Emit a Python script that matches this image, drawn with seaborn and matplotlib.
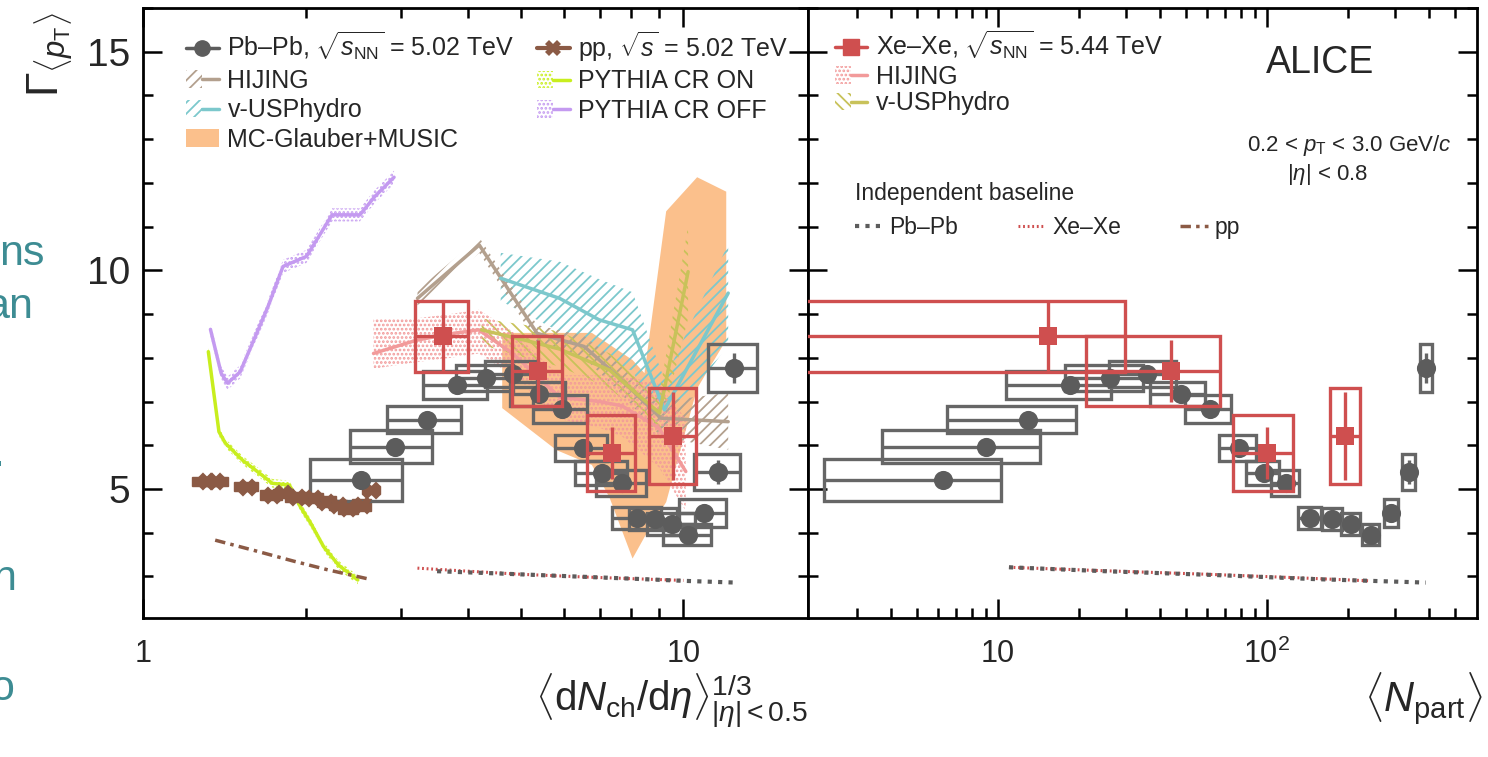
import numpy as np
import matplotlib
matplotlib.use("Agg")
import matplotlib.pyplot as plt
import seaborn as sns
from matplotlib.patches import Rectangle, Patch
from matplotlib.lines import Line2D
from matplotlib.legend_handler import HandlerTuple
from matplotlib.ticker import FixedLocator, NullFormatter, MultipleLocator

# ---------------- data ----------------
# Pb-Pb 5.02 TeV
pb_dn = [2.53, 2.92, 3.35, 3.81, 4.31, 4.83, 5.40, 5.95, 6.51, 7.08, 7.71, 8.22, 8.84, 9.54, 10.2, 10.9, 11.6, 12.4]
pb_dn_err = [0.49, 0.50, 0.52, 0.52, 0.52, 0.53, 0.63, 0.68, 0.72, 0.78, 0.82, 0.85, 0.90, 0.97, 1.05, 1.10, 1.15, 1.30]
pb_npart = [6.25, 9.0, 13.0, 18.5, 26.1, 36.0, 47.8, 61.6, 79.0, 97.5, 118, 145, 175, 205, 243, 289, 337, 390]
pb_npart_err = [4.0, 5.3, 6.5, 7.8, 8.4, 10, 11, 12, 12.4, 13.6, 14, 14, 15, 16, 17, 17, 19, 20]
pb_gamma = [5.20, 5.97, 6.58, 7.38, 7.54, 7.63, 7.17, 6.83, 5.94, 5.37, 5.14, 4.34, 4.31, 4.20, 3.95, 4.45, 5.39, 7.77]
pb_stat = [0.10, 0.10, 0.10, 0.10, 0.10, 0.10, 0.10, 0.10, 0.10, 0.10, 0.12, 0.12, 0.12, 0.14, 0.15, 0.18, 0.27, 0.35]
pb_sys = [0.48, 0.37, 0.31, 0.33, 0.30, 0.30, 0.28, 0.32, 0.30, 0.27, 0.29, 0.25, 0.25, 0.25, 0.24, 0.32, 0.41, 0.55]

# Xe-Xe 5.44 TeV
xe_dn = [3.59, 5.39, 7.39, 9.58]
xe_dn_err = [0.40, 0.57, 0.75, 0.95]
xe_npart = [15.3, 44.0, 100, 196]
xe_npart_err = [14.5, 22.7, 25, 25]
xe_gamma = [8.49, 7.70, 5.82, 6.21]
xe_stat = [0.81, 0.70, 0.59, 1.00]
xe_sys = [0.81, 0.80, 0.87, 1.09]

# pp 5.02 TeV
pp_dn = [1.311, 1.359, 1.555, 1.729, 1.817, 1.925, 2.066, 2.185, 2.297, 2.397, 2.537, 2.643]
pp_gamma = [5.18, 5.18, 5.05, 4.86, 4.90, 4.82, 4.79, 4.71, 4.63, 4.56, 4.63, 4.98]
pp_dn_err = [0.08, 0.08, 0.08, 0.08, 0.08, 0.09, 0.09, 0.09, 0.09, 0.10, 0.10, 0.10]
pp_sys = [0.10, 0.10, 0.10, 0.11, 0.11, 0.11, 0.12, 0.12, 0.12, 0.13, 0.13, 0.10]

# models (left panel)
pb_hij_x = [3.22, 4.19, 5.36, 6.55, 7.57, 9.08, 12.1]
pb_hij_y = [9.36, 10.58, 8.56, 8.26, 7.57, 6.62, 6.54]
pb_hij_lo = [9.20, 10.40, 8.35, 8.00, 7.25, 6.20, 5.90]
pb_hij_hi = [9.55, 10.75, 8.75, 8.50, 7.90, 7.00, 7.20]

pb_hyd_x = [4.59, 5.9, 6.98, 8.05, 9.22, 12.1]
pb_hyd_y = [9.82, 9.36, 8.87, 8.64, 6.81, 9.48]
pb_hyd_lo = [9.3, 8.6, 8.0, 7.7, 6.3, 8.3]
pb_hyd_hi = [10.4, 10.2, 9.8, 9.5, 7.5, 10.6]

mc_x = [4.62, 5.82, 6.77, 7.3, 8.05, 8.47, 9.29, 10.6, 12.0]
mc_hi = [8.57, 8.57, 8.57, 8.30, 7.95, 7.65, 11.35, 12.13, 11.80]
mc_lo = [6.85, 5.89, 5.55, 4.80, 3.41, 3.90, 4.70, 7.30, 8.41]

xe_hij_x = [2.67, 3.2, 3.7, 4.18, 4.83, 5.9, 7.0, 7.7, 9.0, 10.1]
xe_hij_y = [8.10, 8.40, 8.55, 8.64, 8.10, 7.10, 7.00, 6.90, 6.40, 5.40]
xe_hij_lo = [7.75, 7.90, 8.00, 8.10, 7.60, 6.60, 6.40, 6.20, 5.50, 4.50]
xe_hij_hi = [8.90, 8.90, 9.00, 9.10, 8.60, 7.60, 7.60, 7.60, 7.40, 6.60]

xe_hyd_x = [4.23, 5.1, 5.9, 7.3, 8.17, 9.03, 10.2]
xe_hyd_y = [8.64, 8.40, 8.20, 7.72, 7.19, 6.74, 9.97]
xe_hyd_lo = [8.30, 8.00, 7.80, 7.30, 6.80, 6.30, 8.90]
xe_hyd_hi = [8.90, 8.75, 8.60, 8.10, 7.60, 7.20, 11.00]

cron_x = [1.321, 1.382, 1.42, 1.528, 1.643, 1.735, 1.866, 1.954, 2.045, 2.159, 2.3, 2.497]
cron_y = [8.14, 6.31, 6.05, 5.66, 5.36, 5.13, 5.09, 4.60, 4.21, 3.68, 3.26, 2.92]
cron_err = [0.10, 0.10, 0.10, 0.10, 0.10, 0.10, 0.10, 0.10, 0.10, 0.10, 0.10, 0.10]
croff_x = [1.333, 1.395, 1.434, 1.513, 1.614, 1.703, 1.816, 2.007, 2.238, 2.52, 2.685, 2.914]
croff_y = [8.65, 7.65, 7.42, 7.68, 8.49, 9.17, 10.09, 10.32, 11.27, 11.27, 11.69, 12.13]
croff_err = [0.15, 0.15, 0.15, 0.15, 0.15, 0.15, 0.15, 0.15, 0.15, 0.15, 0.15, 0.15]

# independent baselines
pb_base_dn = [3.5, 4.5, 6.0, 8.0, 10.0, 12.5]
pb_base_dn_y = [3.12, 3.07, 3.01, 2.95, 2.90, 2.86]
xe_base_dn = [3.22, 4.0, 5.0, 6.5, 8.0, 10.0]
xe_base_dn_y = [3.19, 3.12, 3.05, 2.99, 2.95, 2.91]
pp_base_dn = [1.36, 1.6, 1.9, 2.2, 2.64]
pp_base_dn_y = [3.83, 3.60, 3.35, 3.15, 2.93]
pb_base_np = [11, 25, 66, 150, 390]
pb_base_np_y = [3.21, 3.12, 3.03, 2.94, 2.86]
xe_base_np = [11, 25, 60, 130, 240]
xe_base_np_y = [3.21, 3.13, 3.05, 2.97, 2.90]

# ---------------- style ----------------
PB = "#5c5c5c"
PB_BOX = "#666666"
XE = "#cf4f4f"
PP = "#8b5a45"
HIJ = "#b3a08e"
HYD = "#7cc8cc"
MC = "#fbc08c"
CRON = "#c8ee1e"
CROFF = "#c49af0"
XHIJ = "#f29a9a"
XHYD = "#c8c25a"
TEAL = "#3d8c93"

sns.set_theme(style="ticks")
plt.rcParams['font.family'] = ['Liberation Sans', 'DejaVu Sans']
plt.rcParams['mathtext.fontset'] = 'custom'
plt.rcParams['mathtext.rm'] = 'Liberation Sans'
plt.rcParams['mathtext.it'] = 'Liberation Sans:italic'
plt.rcParams['mathtext.bf'] = 'Liberation Sans:bold'
plt.rcParams['hatch.linewidth'] = 1.3

W, H = 1488, 757
fig = plt.figure(figsize=(W / 100, H / 100), dpi=100)
fig.patch.set_facecolor('white')
ax1 = fig.add_axes([143 / W, (H - 618) / H, 665 / W, 610 / H])
ax2 = fig.add_axes([808 / W, (H - 618) / H, 669 / W, 610 / H])


def style_axis(ax, xlim, majors, labels, minors, ylabels):
    ax.set_facecolor('white')
    ax.set_xscale('log')
    ax.set_xlim(*xlim)
    ax.set_ylim(2.05, 16.0)
    ax.xaxis.set_major_locator(FixedLocator(majors))
    ax.set_xticklabels(labels)
    ax.xaxis.set_minor_locator(FixedLocator(minors))
    ax.xaxis.set_minor_formatter(NullFormatter())
    ax.yaxis.set_major_locator(FixedLocator([5, 10, 15]))
    ax.yaxis.set_minor_locator(MultipleLocator(1))
    ax.tick_params(which='both', direction='in', top=True, right=True,
                   width=1.8, color='black')
    ax.tick_params(which='major', length=14)
    ax.tick_params(which='minor', length=7)
    ax.tick_params(axis='y', labelsize=28, pad=9, labelleft=ylabels)
    ax.tick_params(axis='x', labelsize=22, pad=15)
    for s in ax.spines.values():
        s.set_linewidth(2)
        s.set_color('black')
    ax.grid(False)


style_axis(ax1, (1.0, 17.0), [1, 10], ['1', '10'], [2, 3, 4, 5, 6, 7, 8, 9], True)
style_axis(ax2, (1.97, 604), [10, 100], ['10', '$10^2$'],
           [3, 4, 5, 6, 7, 8, 9, 20, 30, 40, 50, 60, 70, 80, 90, 200, 300, 400, 500], False)
for lab in ax1.get_xticklabels():
    if lab.get_text() == '1':
        lab.set_x(1.07)

# ---------------- left panel ----------------
ax1.fill_between(mc_x, mc_lo, mc_hi, facecolor=MC, edgecolor='none', zorder=1)
ax1.fill_between(pb_hyd_x, pb_hyd_lo, pb_hyd_hi, facecolor='none', edgecolor=HYD,
                 hatch='///', lw=0, zorder=2)
ax1.fill_between(pb_hij_x, pb_hij_lo, pb_hij_hi, facecolor='none', edgecolor=HIJ,
                 hatch='///', lw=0, zorder=2)
ax1.fill_between(xe_hyd_x, xe_hyd_lo, xe_hyd_hi, facecolor='none', edgecolor=XHYD,
                 hatch='\\\\\\', lw=0, zorder=2)
ax1.fill_between(xe_hij_x, xe_hij_lo, xe_hij_hi, facecolor='none', edgecolor=XHIJ,
                 hatch='....', lw=0, zorder=2)
ax1.fill_between(cron_x, np.array(cron_y) - np.array(cron_err), np.array(cron_y) + np.array(cron_err),
                 facecolor='none', edgecolor=CRON, hatch='....', lw=0, zorder=2)
ax1.fill_between(croff_x, np.array(croff_y) - np.array(croff_err), np.array(croff_y) + np.array(croff_err),
                 facecolor='none', edgecolor=CROFF, hatch='....', lw=0, zorder=2)

for xs, ys, c in [(pb_hij_x, pb_hij_y, HIJ), (pb_hyd_x, pb_hyd_y, HYD),
                  (xe_hij_x, xe_hij_y, XHIJ), (xe_hyd_x, xe_hyd_y, XHYD),
                  (cron_x, cron_y, CRON), (croff_x, croff_y, CROFF)]:
    sns.lineplot(x=xs, y=ys, ax=ax1, color=c, lw=2.5, sort=False, estimator=None, zorder=3)

ax1.plot(xe_base_dn, xe_base_dn_y, color=XE, ls=(0, (0.6, 0.9)), lw=2.2, zorder=3)
ax1.plot(pb_base_dn, pb_base_dn_y, color=PB, ls=(0, (1, 1.5)), lw=3, zorder=3)
ax1.plot(pp_base_dn, pp_base_dn_y, color=PP, ls=(0, (3, 1.5, 1, 1.5)), lw=2.5, zorder=3)


def draw_boxes(ax, xs, xe, ys, ye, color, lw, fill=False, z=4):
    for x, dx, y, dy in zip(xs, xe, ys, ye):
        ax.add_patch(Rectangle((x - dx, y - dy), 2 * dx, 2 * dy,
                               facecolor=color if fill else 'none',
                               edgecolor=color, lw=lw, zorder=z))


# pp
draw_boxes(ax1, pp_dn, pp_dn_err, pp_gamma, pp_sys, PP, 1.0, fill=True, z=4)
sns.scatterplot(x=pp_dn, y=pp_gamma, ax=ax1, color=PP, marker='X', s=170,
                edgecolor=PP, linewidth=0, zorder=5)

# Pb-Pb
draw_boxes(ax1, pb_dn, pb_dn_err, pb_gamma, pb_sys, PB_BOX, 2.4, z=4)
ax1.errorbar(pb_dn, pb_gamma, xerr=pb_dn_err, yerr=pb_stat, fmt='none',
             ecolor=PB_BOX, elinewidth=2.4, capsize=0, zorder=5)
sns.scatterplot(x=pb_dn, y=pb_gamma, ax=ax1, color=PB, marker='o', s=190,
                edgecolor=PB, linewidth=0, zorder=6)

# Xe-Xe
draw_boxes(ax1, xe_dn, xe_dn_err, xe_gamma, xe_sys, XE, 2.4, z=6)
ax1.errorbar(xe_dn, xe_gamma, xerr=xe_dn_err, yerr=xe_stat, fmt='none',
             ecolor=XE, elinewidth=2.4, capsize=0, zorder=6)
sns.scatterplot(x=xe_dn, y=xe_gamma, ax=ax1, color=XE, marker='s', s=170,
                edgecolor=XE, linewidth=0, zorder=7)

# ---------------- right panel ----------------
ax2.plot(xe_base_np, xe_base_np_y, color=XE, ls=(0, (0.6, 0.9)), lw=2.2, zorder=3)
ax2.plot(pb_base_np, pb_base_np_y, color=PB, ls=(0, (1, 1.5)), lw=3, zorder=3)

draw_boxes(ax2, pb_npart, pb_npart_err, pb_gamma, pb_sys, PB_BOX, 2.4, z=4)
ax2.errorbar(pb_npart, pb_gamma, xerr=pb_npart_err, yerr=pb_stat, fmt='none',
             ecolor=PB_BOX, elinewidth=2.4, capsize=0, zorder=5)
sns.scatterplot(x=pb_npart, y=pb_gamma, ax=ax2, color=PB, marker='o', s=190,
                edgecolor=PB, linewidth=0, zorder=6)

draw_boxes(ax2, xe_npart, xe_npart_err, xe_gamma, xe_sys, XE, 2.4, z=6)
ax2.errorbar(xe_npart, xe_gamma, xerr=xe_npart_err, yerr=xe_stat, fmt='none',
             ecolor=XE, elinewidth=2.4, capsize=0, zorder=6)
sns.scatterplot(x=xe_npart, y=xe_gamma, ax=ax2, color=XE, marker='s', s=170,
                edgecolor=XE, linewidth=0, zorder=7)

# ---------------- legends ----------------
hmap = {tuple: HandlerTuple(ndivide=None, pad=0)}


def band(c, hatch):
    return (Patch(facecolor='none', edgecolor=c, hatch=hatch, lw=0),
            Line2D([], [], color=c, lw=2.5))


h1 = [Line2D([], [], color=PB, marker='o', ms=11, lw=2.5),
      band(HIJ, '///'), band(HYD, '///'),
      Patch(facecolor=MC, edgecolor='none'),
      Line2D([], [], color=PP, marker='X', ms=12, mew=0, lw=3),
      band(CRON, '....'), band(CROFF, '....')]
l1 = ["Pb–Pb, $\\sqrt{s_{\\mathrm{NN}}}$ = 5.02 TeV", "HIJING", "v-USPhydro",
      "MC-Glauber+MUSIC", "pp, $\\sqrt{s}$ = 5.02 TeV", "PYTHIA CR ON", "PYTHIA CR OFF"]
leg1 = ax1.legend(h1, l1, ncol=2, loc='upper left', bbox_to_anchor=(0.065, 0.965),
                  frameon=False, fontsize=18, handlelength=1.3, handletextpad=0.35,
                  labelspacing=0.22, columnspacing=0.9, borderpad=0, borderaxespad=0,
                  handler_map=hmap)

h2 = [Line2D([], [], color=XE, marker='s', ms=11, lw=2.5),
      band(XHIJ, '....'), band(XHYD, '\\\\\\')]
l2 = ["Xe–Xe, $\\sqrt{s_{\\mathrm{NN}}}$ = 5.44 TeV", "HIJING", "v-USPhydro"]
leg2 = ax2.legend(h2, l2, loc='upper left', bbox_to_anchor=(0.04, 0.965),
                  frameon=False, fontsize=18, handlelength=1.3, handletextpad=0.35,
                  labelspacing=0.1, borderpad=0, borderaxespad=0, handler_map=hmap)
ax2.add_artist(leg2)

h3 = [Line2D([], [], color=PB, ls=(0, (1, 1.5)), lw=3),
      Line2D([], [], color=XE, ls=(0, (0.6, 0.9)), lw=2.2),
      Line2D([], [], color=PP, ls=(0, (3, 1.5, 1, 1.5)), lw=2.5)]
l3 = ["Pb–Pb", "Xe–Xe", "pp"]
leg3 = ax2.legend(h3, l3, ncol=3, loc='upper left', bbox_to_anchor=(0.07, 0.715),
                  frameon=False, fontsize=16.5, handlelength=1.2, handletextpad=0.3,
                  columnspacing=2.6, borderpad=0, borderaxespad=0,
                  title="Independent baseline", title_fontsize=16.5, alignment='left')

# ---------------- texts ----------------
ax2.text(0.765, 0.91, "ALICE", transform=ax2.transAxes, ha='center', va='center',
         fontsize=27)
ax2.text(0.81, 0.775, "0.2 < $p_{\\mathrm{T}}$ < 3.0 GeV/$c$", transform=ax2.transAxes,
         ha='center', va='center', fontsize=16)
ax2.text(0.776, 0.727, "$|\\eta|$ < 0.8", transform=ax2.transAxes,
         ha='center', va='center', fontsize=16)

fig.text(51 / W, 1 - 12 / H, "$\\Gamma_{\\langle p_{\\mathrm{T}}\\rangle}$", rotation=90,
         ha='center', va='top', fontsize=32)
fig.text(808 / W, 1 - 712 / H,
         "$\\langle \\mathrm{d}N_{\\mathrm{ch}}/\\mathrm{d}\\eta\\rangle^{1/3}_{|\\eta|<0.5}$",
         ha='right', va='baseline', fontsize=29)
fig.text(1483 / W, 1 - 712 / H, "$\\langle N_{\\mathrm{part}}\\rangle$",
         ha='right', va='baseline', fontsize=30)

# cropped slide text on the far left
for txt, xr, yb in [("ns", 45, 265), ("an", 33, 318), (".", 4, 466), ("n", 16, 590), ("o", 14, 700)]:
    fig.text(xr / W, 1 - yb / H, txt, ha='right', va='baseline', fontsize=31, color=TEAL)

fig.savefig("out.png", dpi=100, facecolor='white')
